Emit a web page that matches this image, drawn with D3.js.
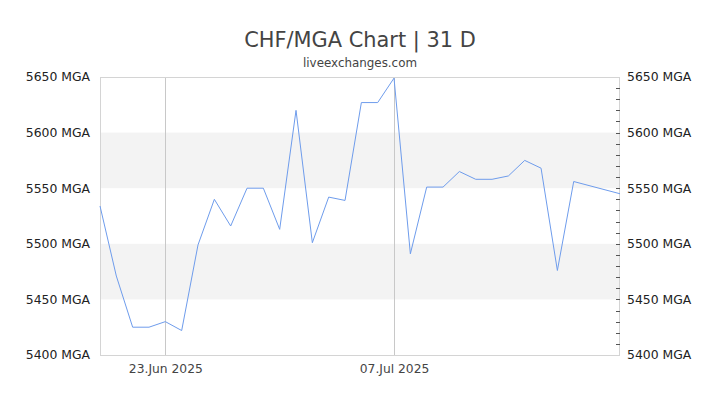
<!DOCTYPE html>
<html>
<head>
<meta charset="utf-8">
<script src="https://cdn.jsdelivr.net/npm/d3@7"></script>
<style>
  html, body { margin: 0; padding: 0; background: #fff; }
  svg { display: block; font-family: "DejaVu Sans", sans-serif; }
</style>
</head>
<body>
<svg id="chart" width="720" height="405"></svg>
<script>
// ---- data ----
const dates = [
  "2025-06-19","2025-06-20","2025-06-21","2025-06-22","2025-06-23","2025-06-24",
  "2025-06-25","2025-06-26","2025-06-27","2025-06-28","2025-06-29","2025-06-30",
  "2025-07-01","2025-07-02","2025-07-03","2025-07-04","2025-07-05","2025-07-06",
  "2025-07-07","2025-07-08","2025-07-09","2025-07-10","2025-07-11","2025-07-12",
  "2025-07-13","2025-07-14","2025-07-15","2025-07-16","2025-07-17","2025-07-18",
  "2025-07-20T20:00"
];
const rates = [
  5534, 5471, 5425, 5425, 5430, 5422, 5499, 5540, 5516, 5550, 5550, 5513,
  5620, 5501, 5542, 5539, 5627, 5627, 5649, 5491, 5551, 5551, 5565, 5558,
  5558, 5561, 5575, 5568, 5476, 5556, 5545
];
const yTicks = [5400, 5450, 5500, 5550, 5600, 5650];
const xTickDates = ["2025-06-23", "2025-07-07"];
const xTickLabels = ["23.Jun 2025", "07.Jul 2025"];
const bands = [[5450, 5500], [5550, 5600]];
const titleText = "CHF/MGA Chart | 31 D";
const subtitleText = "liveexchanges.com";
const unit = "MGA";

// ---- layout ----
const L = 100, R = 620, T = 77, B = 355;
const parse = s => new Date(s + (s.length === 10 ? "T00:00" : ""));
const data = dates.map((d, i) => ({ date: parse(d), value: rates[i] }));

const svg = d3.select("#chart");
const x = d3.scaleTime().domain(d3.extent(data, d => d.date)).range([L, R]);
const y = d3.scaleLinear().domain([5400, 5650]).range([B, T]);

// bands
svg.append("g").selectAll("rect").data(bands).join("rect")
  .attr("x", L).attr("width", R - L)
  .attr("y", d => y(d[1])).attr("height", d => y(d[0]) - y(d[1]))
  .attr("fill", "#f3f3f3");

// vertical grid lines
svg.append("g").selectAll("line").data(xTickDates).join("line")
  .attr("x1", d => Math.round(x(parse(d))) + 0.5).attr("x2", d => Math.round(x(parse(d))) + 0.5)
  .attr("y1", T).attr("y2", B)
  .attr("stroke", "#c8c8c8").attr("stroke-width", 1);

// border
svg.append("rect").attr("x", L + 0.5).attr("y", T + 0.5)
  .attr("width", R - L - 1).attr("height", B - T)
  .attr("fill", "none").attr("stroke", "#d4d4d4").attr("stroke-width", 1);

// right minor ticks
const minor = d3.range(5410, 5650, 10);
svg.append("g").selectAll("line").data(minor).join("line")
  .attr("x1", R - 4).attr("x2", R)
  .attr("y1", d => Math.round(y(d)) + 0.5).attr("y2", d => Math.round(y(d)) + 0.5)
  .attr("stroke", "#555").attr("stroke-width", 1);

// y axes labels (via d3 axes, no domain/ticks lines)
const fmt = d => d + " " + unit;
const leftAxis = svg.append("g").attr("transform", `translate(${L},0)`)
  .call(d3.axisLeft(y).tickValues(yTicks).tickFormat(fmt).tickSize(0).tickPadding(10));
const rightAxis = svg.append("g").attr("transform", `translate(${R},0)`)
  .call(d3.axisRight(y).tickValues(yTicks).tickFormat(fmt).tickSize(0).tickPadding(7));
[leftAxis, rightAxis].forEach(a => {
  a.select(".domain").remove();
  a.selectAll("text").attr("font-family", "DejaVu Sans, sans-serif")
    .attr("font-size", "12.4px").attr("fill", "#222");
});

// x axis labels
const xAxis = svg.append("g").attr("transform", `translate(0,${B})`)
  .call(d3.axisBottom(x).tickValues(xTickDates.map(parse))
    .tickFormat((d, i) => xTickLabels[i]).tickSize(0).tickPadding(9));
xAxis.select(".domain").remove();
xAxis.selectAll("text").attr("font-family", "DejaVu Sans, sans-serif")
  .attr("font-size", "12.3px").attr("fill", "#444");

// line
svg.append("path").datum(data)
  .attr("d", d3.line().x(d => x(d.date)).y(d => y(d.value)))
  .attr("fill", "none").attr("stroke", "#6e9cec").attr("stroke-width", 1)
  .attr("stroke-linejoin", "round");

// titles
svg.append("text").attr("x", 360).attr("y", 47).attr("text-anchor", "middle")
  .attr("font-size", "20.9px").attr("fill", "#444").text(titleText);
svg.append("text").attr("x", 360).attr("y", 67).attr("text-anchor", "middle")
  .attr("font-size", "11.9px").attr("fill", "#444").text(subtitleText);
</script>
</body>
</html>
